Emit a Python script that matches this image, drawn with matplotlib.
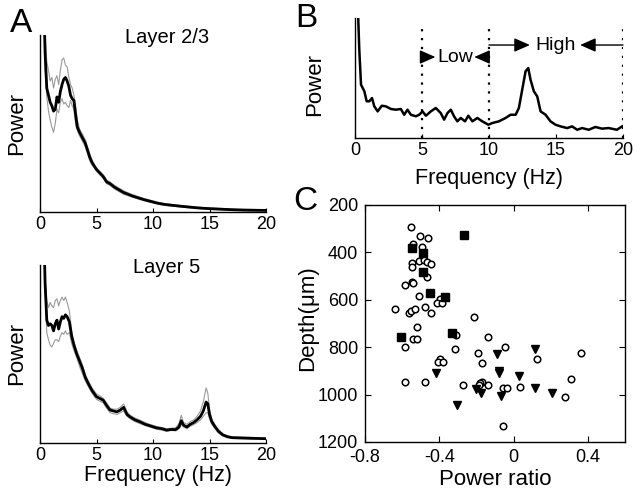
import matplotlib
matplotlib.use("Agg")
import matplotlib.pyplot as plt

plt.rcParams["font.family"] = ["Liberation Sans", "DejaVu Sans"]

# ---- panel A, layer 2/3: mean spectrum and the two bounding traces ----
freq_l23 = [0.3, 0.45, 0.6, 0.75, 0.9, 1.05, 1.2, 1.35, 1.5, 1.65, 1.8, 1.95,
            2.1, 2.25, 2.4, 2.55, 2.7, 2.85, 3.0, 3.15, 3.3, 3.5, 3.75, 4.0,
            4.2, 4.4, 4.6, 4.8, 5.0, 5.3, 5.6, 5.9, 6.2, 6.6, 7.0, 7.4, 7.8,
            8.2, 8.7, 9.2, 9.8, 10.4, 11.0, 11.7, 12.4, 13.2, 14.0, 15.0,
            16.0, 17.0, 18.0, 19.0, 20.0]
mean_l23 = [130, 90, 70, 66, 62, 60, 57, 58, 65, 62, 68, 72, 75, 76, 74, 71,
            66, 64, 63, 55, 48, 45, 42, 39, 35, 31, 28, 26, 24, 22, 20, 17,
            16, 14, 12.5, 11, 10, 9, 8, 7, 6, 5, 4.3, 3.8, 3.3, 2.8, 2.3, 1.9,
            1.6, 1.3, 1.1, 1.0, 0.9]
upper_l23 = [130, 100, 85, 80, 74, 76, 70, 75, 77, 72, 80, 86, 87, 83, 82, 76,
             72, 70, 66, 60, 52, 47, 44, 41, 37, 33, 29.5, 27, 25, 23, 21, 18,
             17, 15, 13.5, 12, 10.8, 9.8, 8.7, 7.6, 6.6, 5.6, 4.8, 4.2, 3.7,
             3.2, 2.7, 2.3, 2.0, 1.7, 1.5, 1.4, 1.3]
lower_l23 = [130, 80, 65, 57, 52, 48, 45, 50, 58, 56, 62, 64, 61, 62, 60, 59,
             63, 60, 58, 50, 46, 43, 40, 37, 33, 29, 26.5, 25, 23, 21, 19, 16,
             15, 13, 11.5, 10, 9.2, 8.3, 7.3, 6.4, 5.4, 4.5, 3.8, 3.3, 2.9,
             2.4, 2.0, 1.6, 1.3, 1.0, 0.8, 0.7, 0.6]

# ---- panel A, layer 5 ----
freq_l5 = [0.3, 0.45, 0.6, 0.75, 0.9, 1.05, 1.2, 1.35, 1.5, 1.65, 1.8, 1.95,
           2.1, 2.25, 2.4, 2.6, 2.8, 3.0, 3.25, 3.5, 3.75, 4.0, 4.3, 4.6, 5.0,
           5.3, 5.6, 5.9, 6.2, 6.5, 6.8, 7.1, 7.4, 7.7, 8.0, 8.4, 8.8, 9.3,
           9.8, 10.3, 10.8, 11.2, 11.6, 12.0, 12.3, 12.5, 12.7, 13.0, 13.3,
           13.6, 13.9, 14.2, 14.45, 14.7, 14.85, 15.0, 15.2, 15.5, 15.8, 16.2,
           16.6, 17.0, 18.0, 19.0, 20.0]
mean_l5 = [130, 90, 69, 66, 67, 66, 63, 67, 69, 64, 68, 71, 70, 72, 71, 68,
           60, 55, 50, 46, 42, 37, 33, 29.5, 26, 25, 24, 21, 18.5, 18, 17.5,
           18.5, 20, 16, 14.5, 13, 12, 10.5, 9.5, 8.5, 8, 7.2, 7.6, 7.5, 9,
           12.5, 10, 9, 10.5, 11.5, 13, 15, 18, 23, 22, 16, 12, 9, 6.5, 4.5,
           3.5, 3, 2.8, 2.6, 2.4]
upper_l5 = [130, 92, 80, 76, 79, 77, 76, 80, 81, 77, 80, 82, 80, 82, 79, 74,
            63, 57, 52, 48, 44, 38.5, 34.5, 31, 27.5, 26.5, 25, 22.5, 19.5, 19,
            19, 20, 22, 17.5, 15.5, 14, 13, 11.5, 10.3, 9.3, 8.7, 8, 8.3, 8.5,
            11, 15.5, 11.5, 10.5, 12, 13, 15, 18, 23, 31, 28, 19, 13.5, 10,
            7.5, 5, 4, 3.4, 3.2, 3.0, 2.8]
lower_l5 = [130, 85, 62, 58, 55, 54, 56, 58, 58, 57, 60, 62, 61, 63, 61, 62,
            56, 52, 48, 43, 39, 35, 31.5, 28, 24.5, 23.5, 22.5, 19.5, 17, 16.5,
            16, 17, 18, 15, 13.5, 12, 11, 9.8, 8.8, 7.8, 7.2, 6.6, 7.0, 6.8, 8,
            10.5, 9, 8, 9.5, 10.3, 11.5, 13, 15, 17, 17, 13.5, 10.5, 8, 5.5,
            3.8, 3.0, 2.5, 2.3, 2.1, 2.0]

# ---- panel B: example spectrum ----
freq_b = [0.15, 0.32, 0.45, 0.7, 0.87, 1.07, 1.27, 1.44, 1.69, 2.0, 2.3, 2.68,
          3.05, 3.42, 3.67, 3.92, 4.17, 4.54, 4.79, 5.04, 5.29, 5.66, 6.03,
          6.4, 6.65, 6.9, 7.15, 7.39, 7.64, 7.89, 8.21, 8.46, 8.76, 9.13, 9.5,
          9.95, 10.25, 10.74, 11.24, 11.61, 11.99, 12.23, 12.48, 12.73, 12.93,
          13.1, 13.35, 13.6, 13.85, 14.22, 14.59, 14.96, 15.34, 15.83, 16.2,
          16.58, 16.95, 17.44, 17.94, 18.44, 18.93, 19.55, 19.93]
power_b = [130, 73.6, 44.4, 38.9, 30.6, 30.6, 33.3, 26.4, 22.2, 26.9, 26.4,
           24.2, 23.6, 24.2, 19.4, 23.6, 19.4, 18.1, 19.4, 22.2, 18.6, 22.2,
           25, 20.8, 15.3, 20.8, 23.6, 18.1, 13.9, 16.7, 13.9, 18.6, 13.9,
           16.7, 13.9, 11.1, 12.5, 13.9, 16.7, 19.4, 19.4, 25, 40.3, 55.6,
           58.3, 48.6, 38.9, 34.7, 22.2, 19.4, 13.9, 11.1, 9.7, 8.3, 9.7, 6.9,
           8.3, 6.9, 9.2, 7.8, 8.3, 6.9, 9.7]
band_edges = [5, 10, 20]

# ---- panel C: power ratio vs depth ----
circ_x = [-0.555, -0.505, -0.459, -0.542, -0.492, -0.546, -0.507, -0.484,
          -0.468, -0.444, -0.549, -0.549, -0.539, -0.468, -0.585, -0.507,
          -0.396, -0.414, -0.388, -0.636, -0.564, -0.551, -0.533, -0.475,
          -0.443, -0.519, -0.215, -0.542, -0.519, -0.587, -0.308, -0.140,
          -0.316, -0.048, -0.194, -0.169, 0.124, 0.364, -0.396, -0.407,
          -0.382, -0.583, -0.478, -0.272, -0.172, -0.181, -0.187, -0.137,
          -0.057, -0.036, 0.032, 0.311, 0.276, -0.059]
circ_y = [294, 330, 338, 365, 378, 446, 435, 432, 442, 449, 463, 524, 530, 505,
          538, 583, 595, 615, 615, 640, 654, 647, 639, 632, 654, 716, 674, 764,
          764, 799, 749, 757, 808, 800, 826, 865, 851, 826, 850, 862, 864, 948,
          948, 959, 945, 952, 959, 960, 973, 973, 967, 934, 1009, 1134]
sq_x = [-0.265, -0.548, -0.489, -0.489, -0.448, -0.368, -0.331, -0.608]
sq_y = [328, 380, 404, 481, 570, 589, 739, 756]
tri_x = [0.116, -0.089, -0.080, -0.076, 0.027, -0.418, -0.304, -0.201,
         -0.178, -0.066, 0.116, 0.208]
tri_y = [808, 830, 899, 908, 922, 908, 1044, 978, 992, 1006, 973, 992]

GRAY = "#9a9a9a"
TICK = 13
LABEL = 15.5


def spectrum_axes(ax, title, xlabel):
    for s in ("top", "right"):
        ax.spines[s].set_visible(False)
    ax.set_xlim(0, 20)
    ax.set_ylim(0, 100)
    ax.set_xticks([0, 5, 10, 15, 20])
    ax.set_yticks([])
    ax.tick_params(axis="x", direction="in", length=3, labelsize=TICK, pad=3)
    ax.set_ylabel("Power", fontsize=16)
    ax.yaxis.set_label_coords(-0.058, 0.5)
    if xlabel:
        ax.set_xlabel("Frequency (Hz)", fontsize=LABEL)
        ax.xaxis.set_label_coords(0.52, -0.122)
    if title:
        ax.text(0.56, 0.985, title, transform=ax.transAxes, ha="center",
                va="center", fontsize=14.5)


fig = plt.figure(figsize=(6.37, 4.91), dpi=100)

ax1 = fig.add_axes([0.0628, 0.5682, 0.3548, 0.3605])
ax1.plot(freq_l23, upper_l23, color=GRAY, lw=0.8)
ax1.plot(freq_l23, lower_l23, color=GRAY, lw=0.8)
ax1.plot(freq_l23, mean_l23, color="black", lw=2)
spectrum_axes(ax1, "Layer 2/3", False)

ax2 = fig.add_axes([0.0628, 0.0978, 0.3548, 0.3625])
ax2.plot(freq_l5, upper_l5, color=GRAY, lw=0.8)
ax2.plot(freq_l5, lower_l5, color=GRAY, lw=0.8)
ax2.plot(freq_l5, mean_l5, color="black", lw=2)
spectrum_axes(ax2, "Layer 5", True)

# panel B
ax3 = fig.add_axes([0.5573, 0.7189, 0.4207, 0.2444])
ax3.plot(freq_b, power_b, color="black", lw=1.8)
for f in band_edges:
    ax3.plot([f, f], [0, 94], color="black", ls=(0, (1, 3)), lw=1.6)
for s in ("top", "right"):
    ax3.spines[s].set_visible(False)
ax3.set_xlim(0, 20)
ax3.set_ylim(0, 100)
ax3.set_xticks([0, 5, 10, 15, 20])
ax3.set_yticks([])
ax3.tick_params(axis="x", direction="in", length=3, labelsize=TICK, pad=3)
ax3.set_ylabel("Power", fontsize=16)
ax3.yaxis.set_label_coords(-0.112, 0.45)
ax3.set_xlabel("Frequency (Hz)", fontsize=LABEL)
ax3.xaxis.set_label_coords(0.5, -0.25)

head = dict(arrowstyle="-|>,head_length=0.95,head_width=0.42", color="black",
            lw=1, mutation_scale=10, shrinkA=0, shrinkB=0)
y_low, y_high = 67.5, 77.5
ax3.annotate("", xy=(6.0, y_low), xytext=(5.0, y_low), arrowprops=head)
ax3.annotate("", xy=(8.9, y_low), xytext=(10.0, y_low), arrowprops=head)
ax3.text(7.45, y_low, "Low", ha="center", va="center", fontsize=14)
ax3.annotate("", xy=(13.05, y_high), xytext=(10.0, y_high), arrowprops=head)
ax3.annotate("", xy=(16.8, y_high), xytext=(20.0, y_high), arrowprops=head)
ax3.text(14.95, y_high, "High", ha="center", va="center", fontsize=14)

# panel C
ax4 = fig.add_axes([0.5730, 0.0998, 0.4082, 0.4827])
ax4.plot(circ_x, circ_y, "o", mfc="white", mec="black", ms=4.7, mew=1.1)
ax4.plot(sq_x, sq_y, "s", color="black", ms=5.2)
ax4.plot(tri_x, tri_y, "v", color="black", ms=6)
ax4.set_xlim(-0.8, 0.6)
ax4.set_ylim(1200, 200)
ax4.set_xticks([-0.8, -0.4, 0, 0.4])
ax4.set_xticklabels(["-0.8", "-0.4", "0", "0.4"])
ax4.set_yticks([200, 400, 600, 800, 1000, 1200])
ax4.tick_params(direction="in", length=4, labelsize=TICK, top=True,
                right=True)
ax4.tick_params(axis="x", pad=5)
ax4.tick_params(axis="y", pad=5)
ax4.set_xlabel("Power ratio", fontsize=16)
ax4.xaxis.set_label_coords(0.5, -0.115)
ax4.set_ylabel("Depth(\u03bcm)", fontsize=16)
ax4.yaxis.set_label_coords(-0.18, 0.523)

for ax in (ax1, ax2, ax3, ax4):
    for s in ax.spines.values():
        s.set_linewidth(1.0)

fig.text(0.033, 0.953, "A", fontsize=24, ha="center", va="center")
fig.text(0.481, 0.963, "B", fontsize=24, ha="center", va="center")
fig.text(0.479, 0.589, "C", fontsize=24, ha="center", va="center")

fig.savefig("out.png", dpi=100)
